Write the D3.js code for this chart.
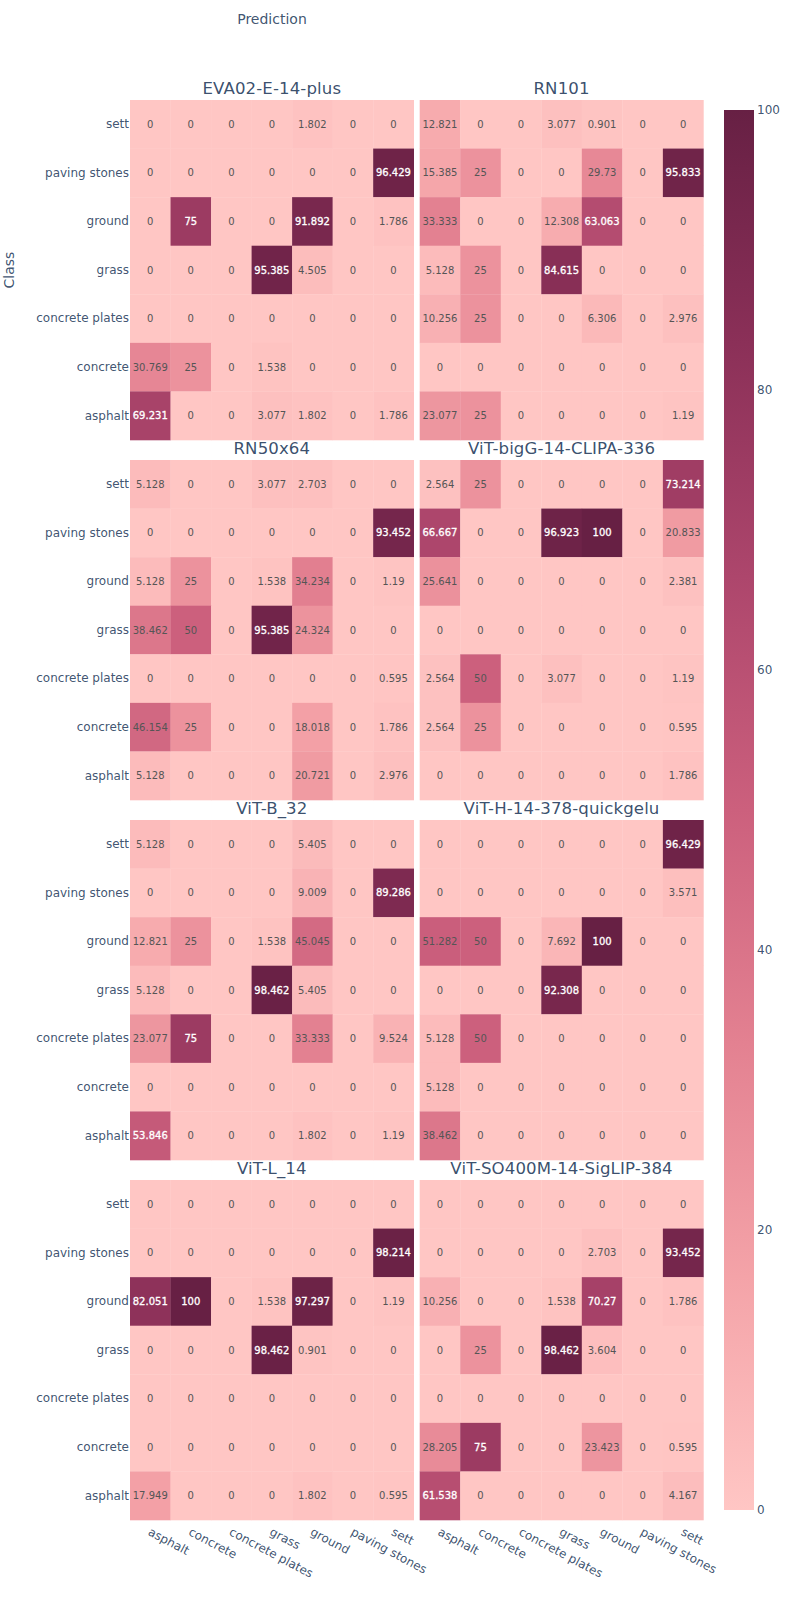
<!DOCTYPE html>
<html>
<head>
<meta charset="utf-8">
<script src="https://cdn.jsdelivr.net/npm/d3@7"></script>
<style>
  body { margin: 0; background: #fff; }
  text { font-family: "DejaVu Sans", Verdana, sans-serif; }
</style>
</head>
<body>
<script>
// predicted classes (x), actual classes (y, top to bottom)
const predictions = ['asphalt', 'concrete', 'concrete plates', 'grass', 'ground', 'paving stones', 'sett'];
const classes = ['sett', 'paving stones', 'ground', 'grass', 'concrete plates', 'concrete', 'asphalt'];
const colorbarTicks = [0, 20, 40, 60, 80, 100];
const burg = ['#ffc6c4', '#f4a3a8', '#e38191', '#cc607d', '#ad466c', '#8b3058', '#672044'];

const modelNames = ['EVA02-E-14-plus', 'RN101', 'RN50x64', 'ViT-bigG-14-CLIPA-336', 'ViT-B_32', 'ViT-H-14-378-quickgelu', 'ViT-L_14', 'ViT-SO400M-14-SigLIP-384'];

const eva02 = [
  [0, 0, 0, 0, 1.802, 0, 0],
  [0, 0, 0, 0, 0, 0, 96.429],
  [0, 75, 0, 0, 91.892, 0, 1.786],
  [0, 0, 0, 95.385, 4.505, 0, 0],
  [0, 0, 0, 0, 0, 0, 0],
  [30.769, 25, 0, 1.538, 0, 0, 0],
  [69.231, 0, 0, 3.077, 1.802, 0, 1.786],
];
const rn101 = [
  [12.821, 0, 0, 3.077, 0.901, 0, 0],
  [15.385, 25, 0, 0, 29.73, 0, 95.833],
  [33.333, 0, 0, 12.308, 63.063, 0, 0],
  [5.128, 25, 0, 84.615, 0, 0, 0],
  [10.256, 25, 0, 0, 6.306, 0, 2.976],
  [0, 0, 0, 0, 0, 0, 0],
  [23.077, 25, 0, 0, 0, 0, 1.19],
];
const rn50x64 = [
  [5.128, 0, 0, 3.077, 2.703, 0, 0],
  [0, 0, 0, 0, 0, 0, 93.452],
  [5.128, 25, 0, 1.538, 34.234, 0, 1.19],
  [38.462, 50, 0, 95.385, 24.324, 0, 0],
  [0, 0, 0, 0, 0, 0, 0.595],
  [46.154, 25, 0, 0, 18.018, 0, 1.786],
  [5.128, 0, 0, 0, 20.721, 0, 2.976],
];
const bigG = [
  [2.564, 25, 0, 0, 0, 0, 73.214],
  [66.667, 0, 0, 96.923, 100, 0, 20.833],
  [25.641, 0, 0, 0, 0, 0, 2.381],
  [0, 0, 0, 0, 0, 0, 0],
  [2.564, 50, 0, 3.077, 0, 0, 1.19],
  [2.564, 25, 0, 0, 0, 0, 0.595],
  [0, 0, 0, 0, 0, 0, 1.786],
];
const vitB32 = [
  [5.128, 0, 0, 0, 5.405, 0, 0],
  [0, 0, 0, 0, 9.009, 0, 89.286],
  [12.821, 25, 0, 1.538, 45.045, 0, 0],
  [5.128, 0, 0, 98.462, 5.405, 0, 0],
  [23.077, 75, 0, 0, 33.333, 0, 9.524],
  [0, 0, 0, 0, 0, 0, 0],
  [53.846, 0, 0, 0, 1.802, 0, 1.19],
];
const vitH = [
  [0, 0, 0, 0, 0, 0, 96.429],
  [0, 0, 0, 0, 0, 0, 3.571],
  [51.282, 50, 0, 7.692, 100, 0, 0],
  [0, 0, 0, 92.308, 0, 0, 0],
  [5.128, 50, 0, 0, 0, 0, 0],
  [5.128, 0, 0, 0, 0, 0, 0],
  [38.462, 0, 0, 0, 0, 0, 0],
];
const vitL = [
  [0, 0, 0, 0, 0, 0, 0],
  [0, 0, 0, 0, 0, 0, 98.214],
  [82.051, 100, 0, 1.538, 97.297, 0, 1.19],
  [0, 0, 0, 98.462, 0.901, 0, 0],
  [0, 0, 0, 0, 0, 0, 0],
  [0, 0, 0, 0, 0, 0, 0],
  [17.949, 0, 0, 0, 1.802, 0, 0.595],
];
const siglip = [
  [0, 0, 0, 0, 0, 0, 0],
  [0, 0, 0, 0, 2.703, 0, 93.452],
  [10.256, 0, 0, 1.538, 70.27, 0, 1.786],
  [0, 25, 0, 98.462, 3.604, 0, 0],
  [0, 0, 0, 0, 0, 0, 0],
  [28.205, 75, 0, 0, 23.423, 0, 0.595],
  [61.538, 0, 0, 0, 0, 0, 4.167],
];
const matrices = [eva02, rn101, rn50x64, bigG, vitB32, vitH, vitL, siglip];

const inkColor = '#2a3f5f';
const panelW = 283.7, panelH = 340;
const colX = [130, 419.7];
const rowY = [100, 460, 820, 1180];

const svg = d3.select('body').append('svg')
  .attr('width', 800).attr('height', 1600)
  .style('display', 'block');

const color = d3.scaleLinear()
  .domain(burg.map((d, i) => i * 100 / (burg.length - 1)))
  .range(burg)
  .interpolate(d3.interpolateRgb);

const scaleX = d3.scaleBand(predictions, [0, panelW]);
const scaleY = d3.scaleBand(classes, [0, panelH]);

// white labels start just above the 51.282 cell
function isDark(v) {
  return v > 52;
}

modelNames.forEach((name, i) => {
  const col = i % 2, row = Math.floor(i / 2);
  const g = svg.append('g').attr('transform', `translate(${colX[col]},${rowY[row]})`);

  const cells = matrices[i].flatMap((vals, r) =>
    vals.map((v, c) => ({ cls: classes[r], pred: predictions[c], v })));

  g.selectAll('rect').data(cells).enter().append('rect')
    .attr('x', (d) => scaleX(d.pred))
    .attr('y', (d) => scaleY(d.cls))
    .attr('width', scaleX.bandwidth() + 0.3)
    .attr('height', scaleY.bandwidth() + 0.3)
    .attr('fill', (d) => color(d.v));

  g.selectAll('text.val').data(cells).enter().append('text')
    .attr('class', 'val')
    .attr('x', (d) => scaleX(d.pred) + scaleX.bandwidth() / 2)
    .attr('y', (d) => scaleY(d.cls) + scaleY.bandwidth() / 2 + 3.5)
    .attr('text-anchor', 'middle')
    .attr('font-size', 10)
    .attr('fill', (d) => (isDark(d.v) ? '#fff' : '#555'))
    .attr('stroke', (d) => (isDark(d.v) ? '#fff' : 'none'))
    .attr('stroke-width', 0.3)
    .text((d) => d3.format('.5~r')(d.v));

  // subplot title
  svg.append('text')
    .attr('x', colX[col] + panelW / 2)
    .attr('y', rowY[row] - 6)
    .attr('text-anchor', 'middle')
    .attr('font-size', 16.6)
    .attr('letter-spacing', 0.1)
    .attr('fill', inkColor)
    .attr('fill-opacity', 0.92)
    .text(name);

  if (col === 0) {
    const yAxis = g.append('g').call(d3.axisLeft(scaleY).tickSize(0).tickPadding(1));
    yAxis.select('.domain').remove();
    yAxis.selectAll('text')
      .attr('font-size', 12)
      .attr('fill', inkColor)
      .attr('fill-opacity', 0.9)
      .style('font-family', '"DejaVu Sans", Verdana, sans-serif');
  }

  if (row === 3) {
    const xAxis = g.append('g')
      .attr('transform', `translate(0,${panelH})`)
      .call(d3.axisBottom(scaleX).tickSize(0));
    xAxis.select('.domain').remove();
    xAxis.selectAll('text')
      .attr('font-size', 12)
      .attr('fill', inkColor)
      .attr('fill-opacity', 0.9)
      .attr('text-anchor', 'start')
      .attr('dy', 0)
      .attr('y', 0)
      .attr('transform', 'translate(-3,14.5) rotate(28)')
      .style('font-family', '"DejaVu Sans", Verdana, sans-serif');
  }
});

// axis titles
svg.append('text')
  .attr('x', 272).attr('y', 24)
  .attr('text-anchor', 'middle')
  .attr('font-size', 14)
  .attr('fill', inkColor)
  .attr('fill-opacity', 0.9)
  .text('Prediction');

svg.append('text')
  .attr('transform', 'translate(14,270) rotate(-90)')
  .attr('text-anchor', 'middle')
  .attr('font-size', 14)
  .attr('fill', inkColor)
  .attr('fill-opacity', 0.9)
  .text('Class');

// colorbar
const barY = d3.scaleLinear([0, 100], [1510, 110]);
const defs = svg.append('defs');
const grad = defs.append('linearGradient')
  .attr('id', 'burg')
  .attr('x1', 0).attr('x2', 0).attr('y1', 1).attr('y2', 0);
grad.selectAll('stop').data(burg).enter().append('stop')
  .attr('offset', (d, i) => i / (burg.length - 1))
  .attr('stop-color', (d) => d);

svg.append('rect')
  .attr('x', 724).attr('y', barY(100))
  .attr('width', 30).attr('height', barY(0) - barY(100))
  .attr('fill', 'url(#burg)');

const barAxis = svg.append('g')
  .attr('transform', 'translate(754,0)')
  .call(d3.axisRight(barY).tickValues(colorbarTicks).tickSize(0).tickPadding(3));
barAxis.select('.domain').remove();
barAxis.selectAll('text')
  .attr('font-size', 12)
  .attr('fill', inkColor)
  .attr('fill-opacity', 0.9)
  .style('font-family', '"DejaVu Sans", Verdana, sans-serif');
</script>
</body>
</html>
